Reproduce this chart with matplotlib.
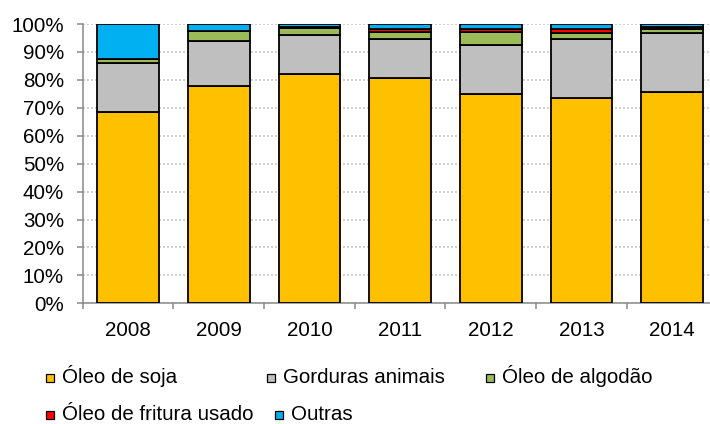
import matplotlib
matplotlib.use("Agg")
import matplotlib.pyplot as plt
from matplotlib.patches import Rectangle
import numpy as np

plt.rcParams['font.family'] = ['Liberation Sans', 'DejaVu Sans']

years = ['2008', '2009', '2010', '2011', '2012', '2013', '2014']
series_names = ['Óleo de soja', 'Gorduras animais', 'Óleo de algodão',
                'Óleo de fritura usado', 'Outras']
soja = [68.6, 77.8, 82.1, 80.7, 75.0, 73.6, 75.5]
gorduras = [17.5, 16.0, 13.8, 13.8, 17.6, 20.9, 21.4]
algodao = [1.5, 3.8, 2.6, 2.8, 4.5, 2.2, 1.4]
fritura = [0.0, 0.0, 0.3, 0.9, 1.1, 1.4, 0.8]
outras = [12.4, 2.4, 1.2, 1.8, 1.8, 1.9, 0.9]
colors = ['#FFC000', '#BFBFBF', '#9BBB59', '#FF0000', '#00B0F0']
yticks = [0, 10, 20, 30, 40, 50, 60, 70, 80, 90, 100]

W, H = 710, 424
fig = plt.figure(figsize=(W / 100, H / 100), dpi=100)
ax = fig.add_axes([82.7 / W, 120.7 / H, 7 * 90.7 / W, 279.3 / H])

x = np.arange(len(years))
bottom = np.zeros(len(years))
for vals, col in zip([soja, gorduras, algodao, fritura, outras], colors):
    vals = np.array(vals)
    ax.bar(x, vals, bottom=bottom, width=0.68, color=col,
           edgecolor='black', linewidth=1.3, zorder=3)
    bottom += vals

ax.set_xlim(-0.5, 6.5)
ax.set_ylim(0, 100)
ax.set_yticks(yticks)
ax.set_yticklabels([f'{v}%' for v in yticks])
ax.set_xticks(x)
ax.set_xticklabels(years)
ax.set_xticks(np.arange(-0.5, 7, 1), minor=True)
ax.tick_params(axis='x', which='major', length=0, pad=13, labelsize=14.8,
               colors='black')
ax.tick_params(axis='x', which='minor', length=4.5, width=1.1, color='#898989')
ax.tick_params(axis='y', length=4.5, width=1.1, color='#898989', pad=9,
               labelsize=14.8)

ax.yaxis.grid(True, linestyle=(0, (1.2, 1.2)), color='#C8C8C8', linewidth=1.2,
              zorder=0)
ax.set_axisbelow(True)
for s in ['top', 'right']:
    ax.spines[s].set_visible(False)
for s in ['left', 'bottom']:
    ax.spines[s].set_color('#898989')
    ax.spines[s].set_linewidth(1.1)

# legend (Excel-like layout)
leg_pos = [(45.7, 383.3), (266.7, 383.3), (485.7, 383.3),
           (45.7, 420.0), (275.0, 420.0)]
sq = 8.0
for name, col, (lx, ly) in zip(series_names, colors, leg_pos):
    cy = ly - 5.5
    fig.patches.append(Rectangle((lx / W, 1 - (cy + sq / 2) / H), sq / W, sq / H,
                                 transform=fig.transFigure, facecolor=col,
                                 edgecolor='black', linewidth=0.9))
    fig.text((lx + sq + 8.0) / W, 1 - ly / H, name, fontsize=14.8,
             va='baseline', ha='left')

fig.savefig('out.png', dpi=100)
